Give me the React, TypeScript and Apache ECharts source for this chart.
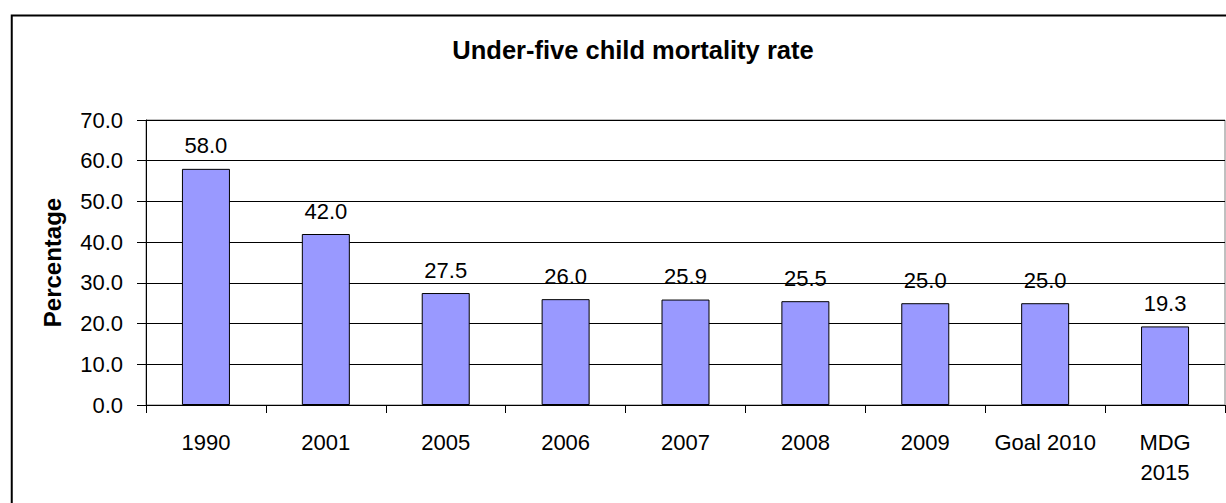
import React, { useEffect, useRef } from "react";
import * as echarts from "echarts";

const categories = ["1990", "2001", "2005", "2006", "2007", "2008", "2009", "Goal 2010", "MDG\n2015"];
const values = [58.0, 42.0, 27.5, 26.0, 25.9, 25.5, 25.0, 25.0, 19.3];
const titleText = "Under-five child mortality rate";
const yAxisName = "Percentage";

export default function App() {
  const ref = useRef<HTMLDivElement>(null);
  useEffect(() => {
    document.body.style.margin = "0";
    const chart = echarts.init(ref.current!, null, { renderer: "svg" });
    const font = "Arial, 'Liberation Sans', sans-serif";
    chart.setOption({
      animation: false,
      backgroundColor: "#ffffff",
      graphic: [
        {
          type: "rect",
          shape: { x: 11.75, y: 15.5, width: 1240, height: 520 },
          style: { fill: "none", stroke: "#000", lineWidth: 2 },
          silent: true,
        },
      ],
      title: {
        text: titleText,
        left: 628,
        textAlign: "center",
        top: 32,
        textStyle: { fontFamily: font, fontWeight: "bold", fontSize: 25.5, color: "#000" },
      },
      grid: {
        left: 146,
        right: 1,
        top: 120,
        bottom: 98,
        show: true,
        borderColor: "#808080",
        borderWidth: 1,
        containLabel: false,
      },
      xAxis: {
        type: "category",
        data: categories,
        boundaryGap: true,
        axisLine: { show: true, lineStyle: { color: "#000", width: 1 } },
        axisTick: { show: true, length: 8, alignWithLabel: false, lineStyle: { color: "#000" } },
        axisLabel: {
          interval: 0,
          margin: 22,
          color: "#000",
          fontFamily: font,
          fontSize: 22,
          lineHeight: 30,
        },
      },
      yAxis: {
        type: "value",
        min: 0,
        max: 70,
        interval: 10,
        name: yAxisName,
        nameLocation: "middle",
        nameGap: 82,
        nameTextStyle: { fontFamily: font, fontWeight: "bold", fontSize: 24, color: "#000" },
        axisLine: { show: true, lineStyle: { color: "#000", width: 1 } },
        axisTick: { show: true, length: 9, lineStyle: { color: "#000" } },
        axisLabel: {
          margin: 23,
          color: "#000",
          fontFamily: font,
          fontSize: 22,
          formatter: (v: number) => v.toFixed(1),
        },
        splitLine: { show: true, lineStyle: { color: "#000", width: 1 } },
      },
      series: [
        {
          type: "bar",
          data: values,
          barWidth: 48,
          itemStyle: { color: "#9999FF", borderColor: "#000", borderWidth: 1 },
          label: {
            show: true,
            position: "top",
            distance: 12,
            color: "#000",
            fontFamily: font,
            fontSize: 22,
            formatter: (p: any) => Number(p.value).toFixed(1),
          },
        },
      ],
    });
    return () => chart.dispose();
  }, []);
  return <div ref={ref} style={{ width: 1226, height: 503 }} />;
}
